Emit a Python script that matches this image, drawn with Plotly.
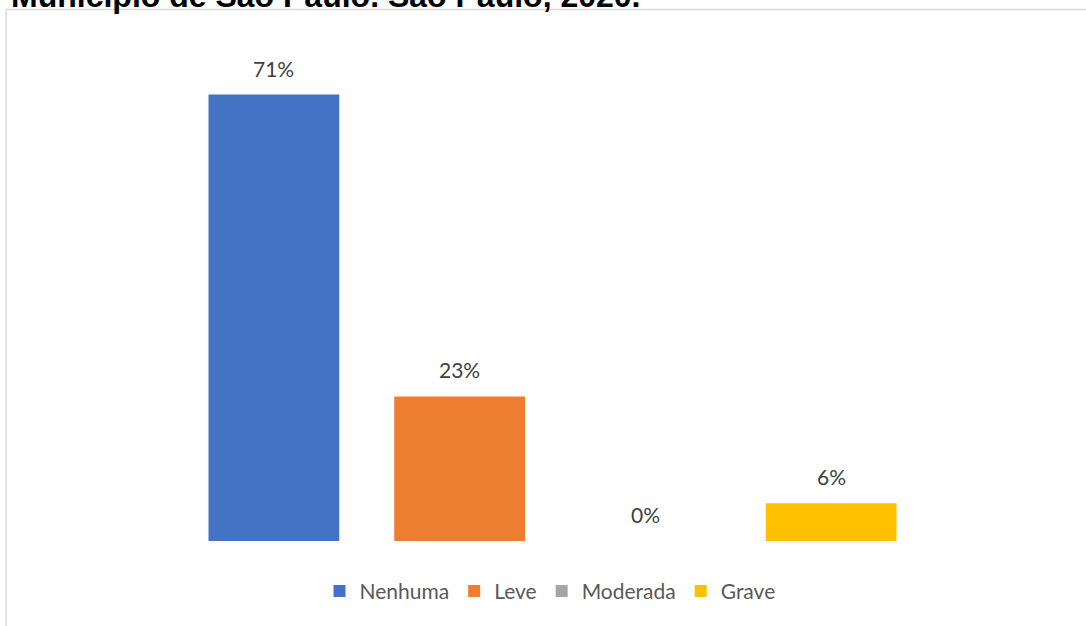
import plotly.graph_objects as go

# Severity categories and their share of cases (%)
categories = ["Nenhuma", "Leve", "Moderada", "Grave"]
values = [71, 23, 0, 6]
colors = ["#4472C4", "#ED7D31", "#A5A5A5", "#FFC000"]
title_text = "Município de São Paulo. São Paulo, 2020."

W, H = 1086, 626
L, R, T, B = 180.5, 161.5, 37.5, 84.5
PW, PH = W - L - R, H - T - B


def px_x(p):
    return (p - L) / PW


def px_y(p):
    return (H - B - p) / PH


fig = go.Figure()
for cat, val, col in zip(categories, values, colors):
    fig.add_trace(go.Bar(
        x=[cat], y=[val], name=cat,
        marker=dict(color=col, line=dict(width=0)),
        hoverinfo="skip",
    ))

# value labels above each bar
for cat, val in zip(categories, values):
    fig.add_annotation(
        x=cat, y=val, xref="x", yref="y",
        text=f"{val}%", showarrow=False,
        yanchor="bottom", yshift=12,
        font=dict(family="Lato", size=21, color="#404040"),
    )

# chart title (partly above the page top)
fig.add_annotation(
    x=px_x(8), y=px_y(15), xref="paper", yref="paper",
    xanchor="left", yanchor="bottom", showarrow=False,
    text=f"<b>{title_text}</b>",
    font=dict(family="Liberation Sans", size=32, color="#000000"),
)

# chart frame
fig.add_shape(type="line", xref="paper", yref="paper",
              x0=px_x(5.5), x1=px_x(W + 5), y0=px_y(9), y1=px_y(9),
              line=dict(color="#D9D9D9", width=1.5))
fig.add_shape(type="line", xref="paper", yref="paper",
              x0=px_x(5.5), x1=px_x(5.5), y0=px_y(9), y1=px_y(H + 5),
              line=dict(color="#D9D9D9", width=1.5))

fig.update_layout(
    width=W, height=H,
    margin=dict(l=L, r=R, t=T, b=B, pad=0),
    paper_bgcolor="white", plot_bgcolor="white",
    barmode="overlay", bargap=0.296,
    showlegend=True,
    legend=dict(
        orientation="h", x=px_x(550), y=px_y(592),
        xanchor="center", yanchor="middle",
        font=dict(family="Lato", size=21, color="#595959"),
        bgcolor="rgba(0,0,0,0)",
    ),
    xaxis=dict(visible=False, range=[-0.5, 3.5], fixedrange=True),
    yaxis=dict(visible=False, range=[0, 80], fixedrange=True),
)

fig.write_html("out.html")
